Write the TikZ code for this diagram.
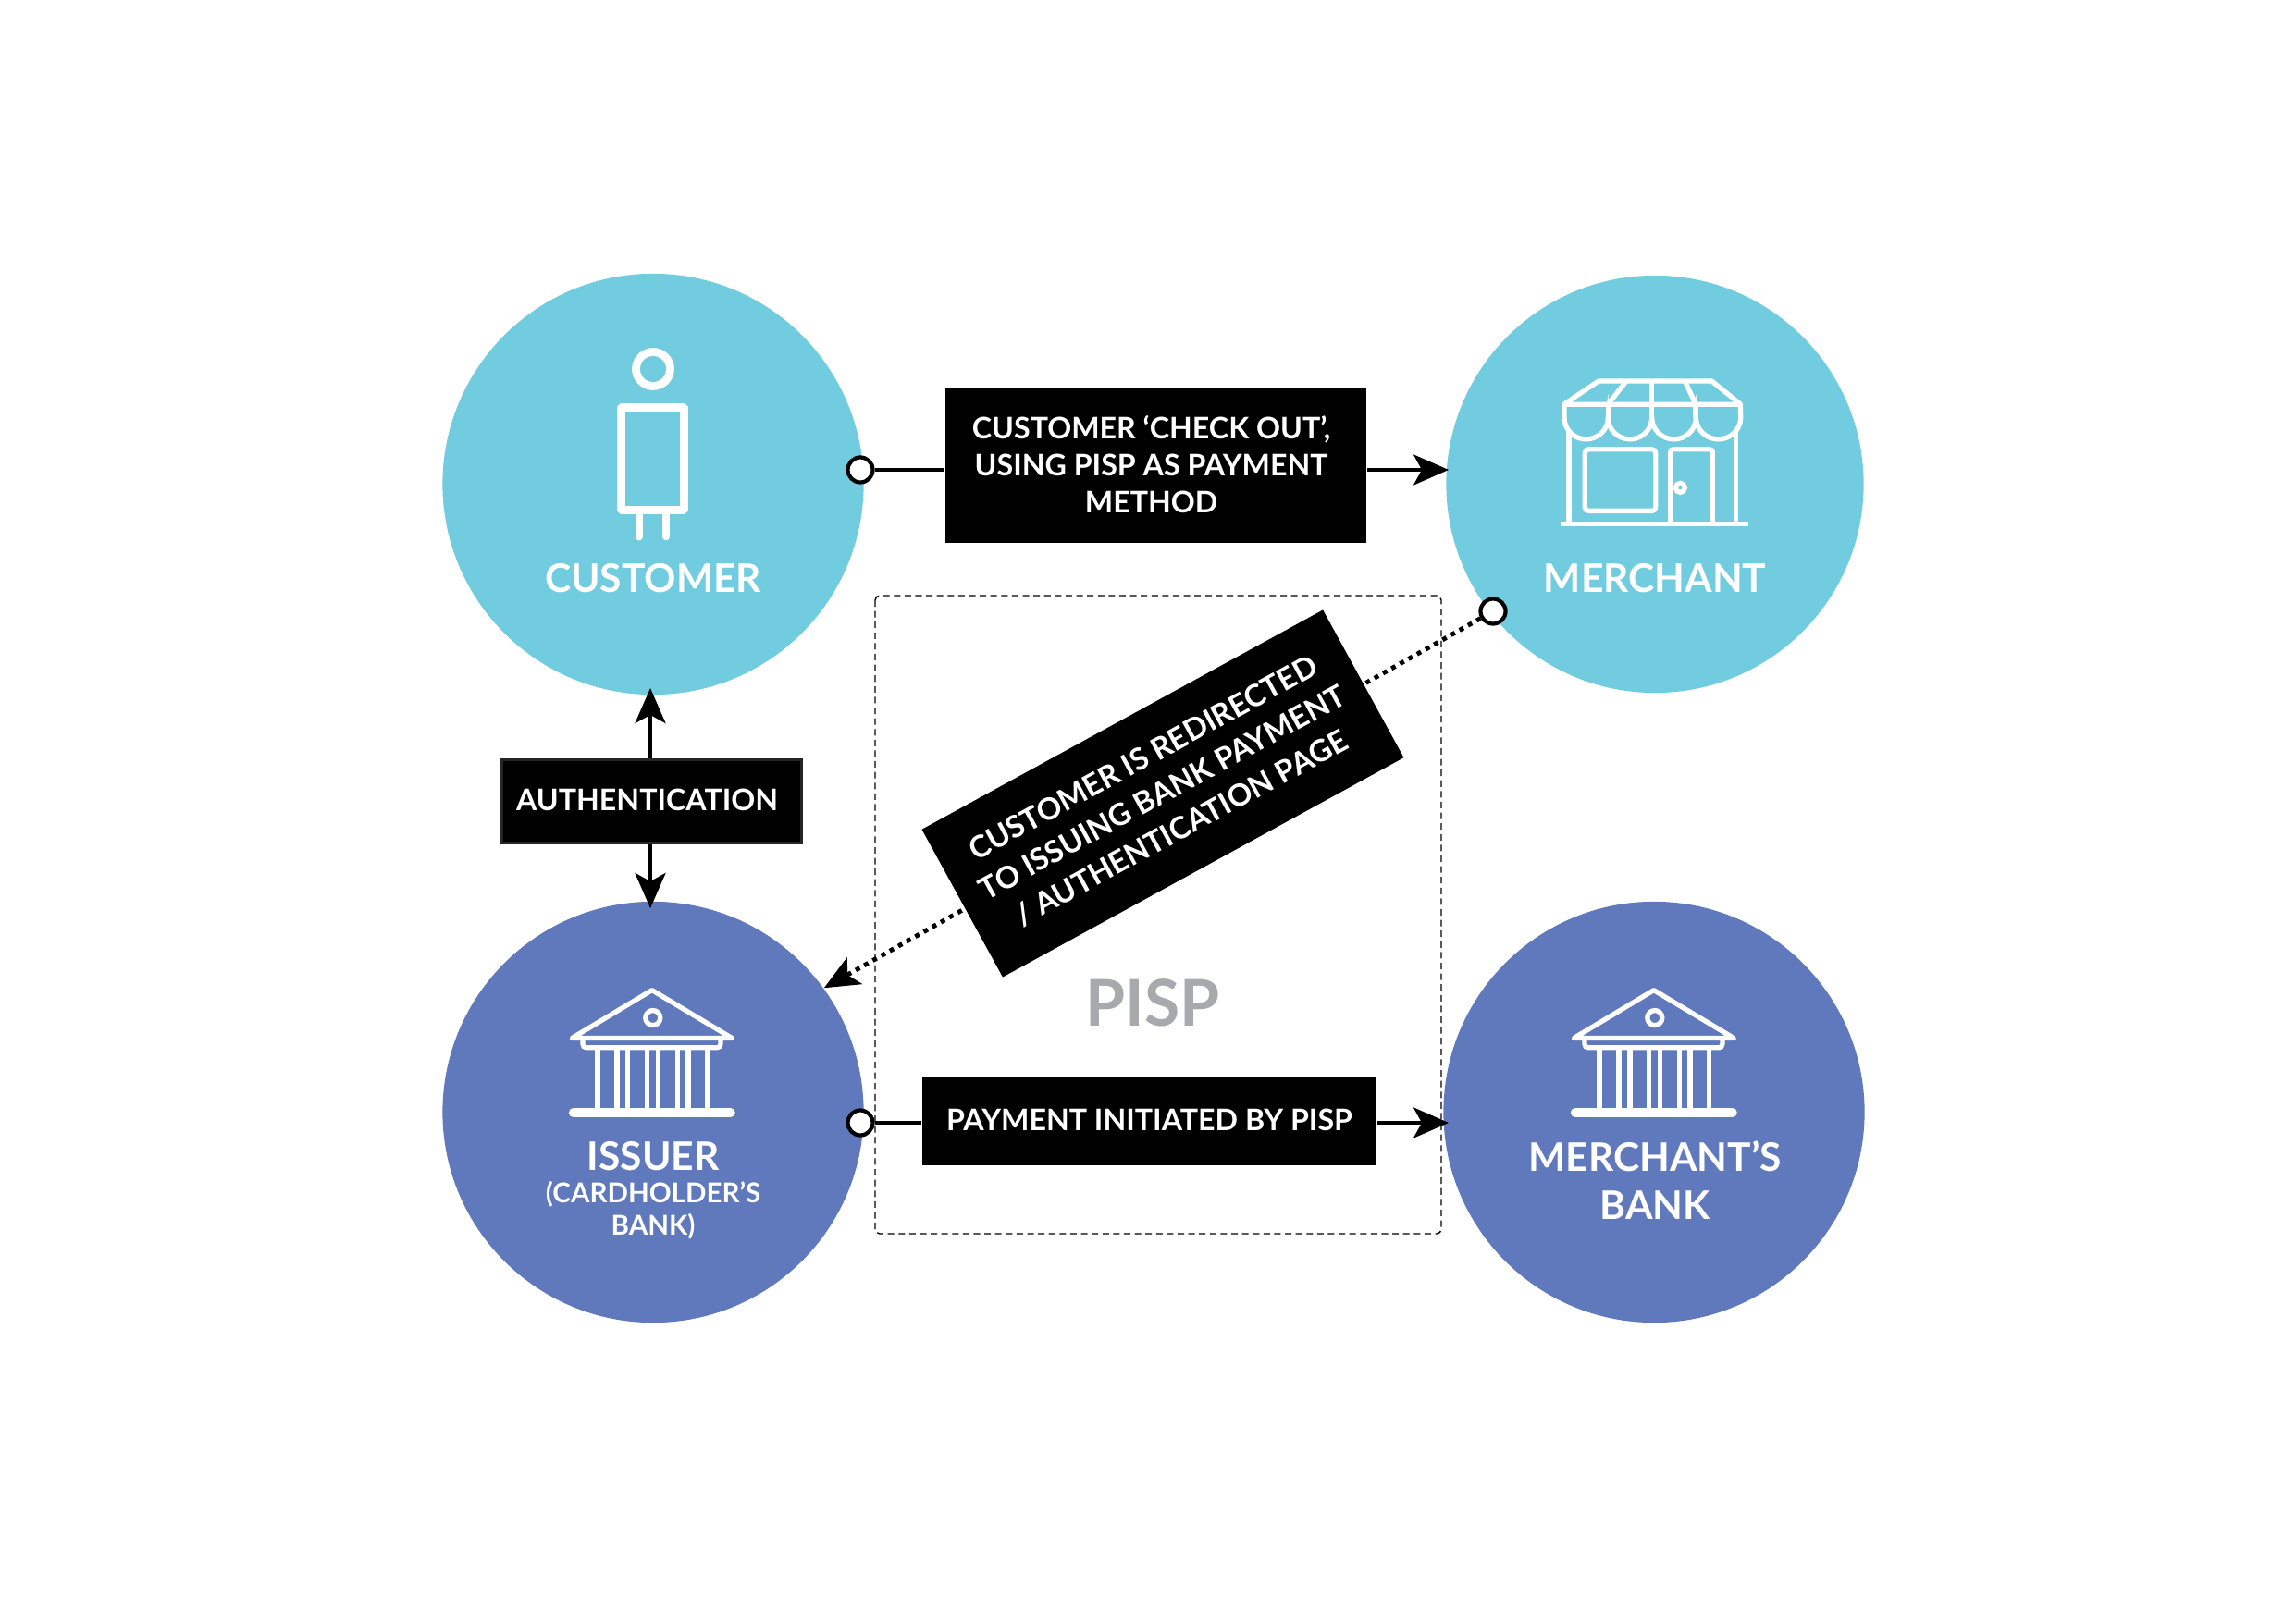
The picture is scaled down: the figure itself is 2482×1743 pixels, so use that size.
\documentclass[tikz,border=0pt]{standalone}
\usepackage{fontspec}
\setmainfont{Lato}
\usetikzlibrary{arrows.meta}

\definecolor{custBlue}{HTML}{71CCDF}
\definecolor{bankBlue}{HTML}{5F79BC}
\definecolor{pispGray}{HTML}{A7A9AC}

\tikzset{
    partyCircle/.style={circle, minimum size=4.55cm, inner sep=0pt},
    partyLabel/.style={text=white, font=\fontsize{12.1}{14.8}\selectfont\bfseries, align=center},
    smallLabel/.style={text=white, font=\fontsize{8.4}{9.9}\selectfont\bfseries, align=center},
    stepLabel/.style={fill=black, text=white, inner sep=0pt, align=center, text depth=0.9pt,
        font=\fontsize{9.15}{11.25}\selectfont\bfseries},
    ringNode/.style={circle, draw=black, fill=white, line width=1.2pt, minimum size=0.27cm, inner sep=0pt},
    connector/.style={black, line width=1.1pt},
    flowArrow/.style={connector, -{Stealth[length=0.38cm, width=0.33cm, inset=0.09cm]}},
    iconLine/.style={white, line width=1.5pt}
}

% Bank icon, drawn in crop pixels from its top left corner
\newcommand{\bankIcon}[2]{
    \begin{scope}[shift={(#1,#2)}, x=0.003333cm, y=-0.003333cm]
        \draw[iconLine, line join=round, line cap=round] (115,248) -- (375,92) -- (635,248) -- cycle;
        \draw[iconLine] (378,182) circle (0.08cm);
        \draw[iconLine, rounded corners=0.04cm] (150,255) -- (150,279) -- (598,279) -- (598,255);
        \foreach \colX in {198,261,297,360,395,458,493,555}
            \draw[iconLine] (\colX,285) -- (\colX,480);
        \draw[white, line width=2.9pt, line cap=round] (120,490) -- (630,490);
    \end{scope}
}
% Moves a line of box text slightly left
\newcommand{\nudgeLeft}{\hspace*{-2.8pt}}

\begin{document}
\begin{tikzpicture}[x=0.01cm, y=-0.01cm]
    \useasboundingbox (0,0) rectangle (2482,1743);

    % Four parties
    \node[partyCircle, fill=custBlue] (customerCircle) at (706,523.5) {};
    \node[partyCircle, fill=custBlue, minimum size=4.51cm] (merchantCircle) at (1789,523.5) {};
    \node[partyCircle, fill=bankBlue] (issuerCircle) at (706,1202.5) {};
    \node[partyCircle, fill=bankBlue] (acquirerCircle) at (1788,1202.5) {};

    % PISP frame
    \draw[black, line width=0.4pt, dash pattern=on 2pt off 1.3pt, rounded corners=0.05cm]
        (946,644) rectangle (1558,1334);
    \node[text=pispGray, font=\fontsize{19.8}{20}\selectfont\bfseries] (pispLabel) at (1246,1084) {PISP};

    % Person icon
    \draw[white, line width=2.5pt] (706,399) circle (0.185cm);
    \draw[white, line width=2.5pt, rounded corners=0.01cm] (671.5,440.5) rectangle (739.5,551.5);
    \draw[white, line width=2.5pt, line cap=round] (691,556) -- (691,580);
    \draw[white, line width=2.5pt, line cap=round] (720,556) -- (720,580);

    % Shop icon
    \begin{scope}[shift={(1640,380)}, x=0.003333cm, y=-0.003333cm]
        \draw[iconLine, line join=round] (152,172) -- (265,96) -- (632,96) -- (726,172) -- cycle;
        \draw[iconLine] (355,96) -- (295,172);
        \draw[iconLine] (437,96) -- (437,172);
        \draw[iconLine] (545,96) -- (580,172);
        \draw[iconLine] (153,172) -- (153,215) arc[start angle=180, end angle=360, x radius=0.2367cm, y radius=0.2333cm]
            arc[start angle=180, end angle=360, x radius=0.2367cm, y radius=0.2333cm]
            arc[start angle=180, end angle=360, x radius=0.2383cm, y radius=0.2333cm]
            arc[start angle=180, end angle=360, x radius=0.2417cm, y radius=0.2333cm] -- (725,172);
        \draw[iconLine] (295,172) -- (295,215);
        \draw[iconLine] (437,172) -- (437,215);
        \draw[iconLine] (580,172) -- (580,215);
        \draw[iconLine] (168,260) -- (168,560);
        \draw[iconLine] (710,260) -- (710,560);
        \draw[iconLine] (140,560) -- (752,560);
        \draw[iconLine, rounded corners=0.04cm] (220,318) rectangle (450,518);
        \draw[iconLine, rounded corners=0.03cm] (498,560) -- (498,318) -- (635,318) -- (635,560);
        \draw[iconLine] (530,443) circle (0.05cm);
    \end{scope}

    % Bank icons
    \bankIcon{580}{1040}
    \bankIcon{1663}{1040}

    % Party labels
    \node[partyLabel] (customerLabel) at (706,625) {CUSTOMER};
    \node[partyLabel] (merchantLabel) at (1789,625) {MERCHANT};
    \node[partyLabel] (issuerLabel) at (706,1250) {ISSUER};
    \node[smallLabel] (issuerSub) at (706,1309) {(CARDHOLDER’S\\BANK)};
    \node[partyLabel] (acquirerLabel) at (1789,1276) {MERCHANT’S\\BANK};

    % Step boxes
    \node[stepLabel, minimum width=4.55cm, minimum height=1.67cm] (checkoutBox) at (1249.5,503.5)
        {\nudgeLeft CUSTOMER ‘CHECK OUT’,\\\nudgeLeft USING PISP AS PAYMENT\\\nudgeLeft METHOD};
    \node[stepLabel, draw=black!85, line width=1pt, minimum width=3.24cm, minimum height=0.9cm] (authBox) at (704.5,866.5)
        {\nudgeLeft AUTHENTICATION};
    \node[stepLabel, minimum width=4.91cm, minimum height=0.95cm] (paymentBox) at (1242.5,1212.5)
        {PAYMENT INITIATED BY PISP};

    % Rings
    \node[ringNode] (customerRing) at (930,508) {};
    \node[ringNode] (merchantRing) at (1614,661) {};
    \node[ringNode] (issuerRing) at (930,1214) {};

    % Connectors
    \coordinate (merchantTip) at (1566,508);
    \coordinate (acquirerTip) at (1566,1214);
    \draw[connector] (customerRing) -- (customerRing -| checkoutBox.west);
    \draw[flowArrow] (merchantTip -| checkoutBox.east) -- (merchantTip);
    \draw[connector] (issuerRing) -- (issuerRing -| paymentBox.west);
    \draw[flowArrow] (acquirerTip -| paymentBox.east) -- (acquirerTip);
    \coordinate (authTop) at (703,744);
    \coordinate (authBottom) at (703,982);
    \draw[flowArrow] (authTop |- authBox.north) -- (authTop);
    \draw[flowArrow] (authBottom |- authBox.south) -- (authBottom);

    % Dotted redirect, the rotated box sits over it
    \draw[line width=1.4pt, dash pattern=on 1.4pt off 1.6pt, -{Stealth[length=0.38cm, width=0.33cm, inset=0.09cm]}]
        (merchantRing) -- (issuerCircle.36);
    \node[stepLabel, rotate=28.7, minimum width=4.94cm, minimum height=1.82cm,
        font=\fontsize{9.35}{12.3}\selectfont\bfseries] (redirectBox) at (1257,858)
        {CUSTOMER IS REDIRECTED\\TO ISSUING BANK PAYMENT\\/ AUTHENTICATION PAGE};
\end{tikzpicture}
\end{document}
